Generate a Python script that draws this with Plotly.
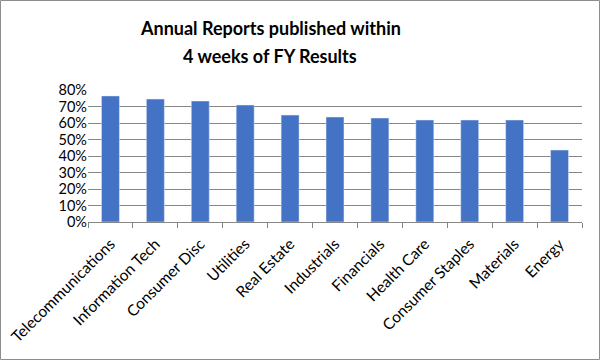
import plotly.graph_objects as go

categories = ["Telecommunications", "Information Tech", "Consumer Disc", "Utilities",
              "Real Estate", "Industrials", "Financials", "Health Care",
              "Consumer Staples", "Materials", "Energy"]
values = [0.764, 0.745, 0.733, 0.709, 0.648, 0.636, 0.630, 0.618, 0.618, 0.618, 0.436]
y_ticks = [0, 0.1, 0.2, 0.3, 0.4, 0.5, 0.6, 0.7, 0.8]
title_lines = ["Annual Reports published within", "4 weeks of FY Results"]

W, H = 601, 361
L, R, T, B = 88, 19, 90, 139
ph = H - T - B
pw = W - L - R

fig = go.Figure(go.Bar(x=categories, y=values, marker_color="#4472C4", width=0.4))

fig.update_layout(
    width=W, height=H,
    margin=dict(l=L, r=R, t=T, b=B, autoexpand=False),
    paper_bgcolor="white", plot_bgcolor="white",
    showlegend=False,
    font=dict(family="Lato, Liberation Sans, sans-serif", color="#000000"),
)
fig.update_xaxes(
    tickangle=-45, tickfont=dict(size=15.5, color="#000"), automargin=False,
    showline=True, linecolor="#868686", linewidth=1,
    ticks="outside", tickson="boundaries", ticklen=5, tickcolor="#868686",
    ticklabelstandoff=6,
    showgrid=False,
)
fig.update_yaxes(
    range=[0, 0.8], tickvals=y_ticks, tickformat=".0%", automargin=False,
    tickfont=dict(size=14.5, color="#000"),
    showgrid=True, gridcolor="#868686", gridwidth=1,
    zeroline=False, showline=False, ticks="",
)

# title lines
for i, line in enumerate(title_lines):
    yb = 35 + 28 * i  # baseline pixel
    fig.add_annotation(
        text=f"<b>{line}</b>", xref="paper", yref="paper",
        x=(270 - L) / pw, y=(H - B - (yb - 7)) / ph,
        showarrow=False, xanchor="center", yanchor="middle",
        font=dict(size=18, color="#000", family="Lato, Liberation Sans, sans-serif"),
    )

# outer border
fig.add_shape(type="rect", xref="paper", yref="paper",
              x0=(0.5 - L) / pw, x1=(W - 1.5 - L) / pw,
              y0=(H - B - (H - 1.5)) / ph, y1=(H - B - 0.5) / ph,
              line=dict(color="#8c8c8c", width=1), layer="above")

fig.write_html("out.html", config={"displayModeBar": False},
               post_script="document.body.style.margin='0';document.body.style.overflow='hidden';")
